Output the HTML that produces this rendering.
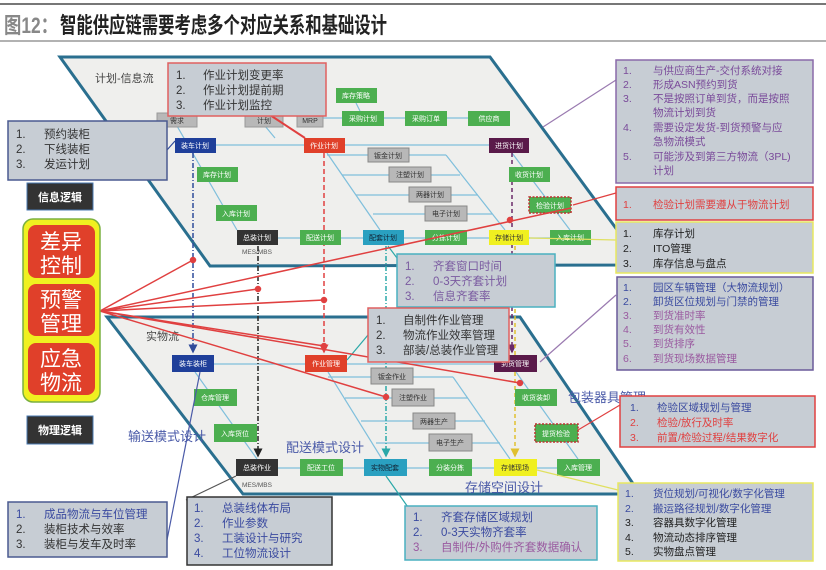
<!DOCTYPE html>
<html><head><meta charset="utf-8"><style>
html,body{margin:0;padding:0;background:#fff;}
svg{display:block;font-family:"Liberation Sans","Noto Sans CJK SC",sans-serif;}
</style></head><body>
<svg width="826" height="570" viewBox="0 0 826 570" xmlns="http://www.w3.org/2000/svg">
<defs>
<marker id="ab" markerWidth="6" markerHeight="6" refX="5" refY="3" orient="auto"><path d="M0,0 L6,3 L0,6z" fill="#2f4b9a"/></marker>
<marker id="ak" markerWidth="6" markerHeight="6" refX="5" refY="3" orient="auto"><path d="M0,0 L6,3 L0,6z" fill="#222"/></marker>
<marker id="ar" markerWidth="6" markerHeight="6" refX="5" refY="3" orient="auto"><path d="M0,0 L6,3 L0,6z" fill="#e04040"/></marker>
<marker id="at" markerWidth="6" markerHeight="6" refX="5" refY="3" orient="auto"><path d="M0,0 L6,3 L0,6z" fill="#2aa8a8"/></marker>
<marker id="ap" markerWidth="6" markerHeight="6" refX="5" refY="3" orient="auto"><path d="M0,0 L6,3 L0,6z" fill="#6a2a6a"/></marker>
<marker id="ay" markerWidth="6" markerHeight="6" refX="5" refY="3" orient="auto"><path d="M0,0 L6,3 L0,6z" fill="#e0c030"/></marker>
</defs>
<!-- title -->
<line x1="0" y1="4" x2="826" y2="4" stroke="#777" stroke-width="2"/>
<text x="4" y="33" font-size="22" font-weight="bold" fill="#888" textLength="54" lengthAdjust="spacingAndGlyphs">图12：</text>
<text x="60" y="33" font-size="22" font-weight="bold" fill="#222" textLength="327" lengthAdjust="spacingAndGlyphs">智能供应链需要考虑多个对应关系和基础设计</text>
<line x1="0" y1="41" x2="826" y2="41" stroke="#999" stroke-width="1.5"/>

<!-- parallelograms -->
<polygon points="60,57 490,57 643,265 210,266" fill="#efefed" stroke="#2a6f8f" stroke-width="3"/>
<polygon points="107,317 520,317 640,494 243,494" fill="#efefed" stroke="#2a6f8f" stroke-width="3"/>

<text x="95" y="82" font-size="11" fill="#444">计划-信息流</text>
<text x="146" y="340" font-size="11" fill="#444">实物流</text>
<text x="128" y="441" font-size="13" fill="#4a5aa8">输送模式设计</text>
<text x="286" y="452" font-size="13" fill="#4a5aa8">配送模式设计</text>
<text x="465" y="492" font-size="13" fill="#4a5aa8">存储空间设计</text>
<text x="568" y="402" font-size="13" fill="#4a5aa8">包装器具管理</text>

<!-- light blue connectors upper -->
<g stroke="#7fbfdc" stroke-width="1.2" fill="none">
<line x1="216" y1="145" x2="304" y2="145"/><line x1="345" y1="145" x2="489" y2="145"/>
<line x1="384" y1="118" x2="405" y2="118"/><line x1="447" y1="118" x2="468" y2="118"/><line x1="323" y1="118" x2="342" y2="118"/>
<line x1="356" y1="103" x2="360" y2="111"/>
<line x1="177" y1="126" x2="237" y2="230"/>
<line x1="265" y1="126" x2="275" y2="138"/>
<line x1="327" y1="153" x2="380" y2="230"/>
<line x1="327" y1="155" x2="368" y2="155"/><line x1="409" y1="155" x2="446" y2="155"/>
<line x1="342" y1="175" x2="389" y2="175"/><line x1="431" y1="175" x2="460" y2="175"/>
<line x1="356" y1="195" x2="409" y2="195"/><line x1="451" y1="195" x2="478" y2="195"/>
<line x1="373" y1="214" x2="425" y2="214"/><line x1="467" y1="214" x2="492" y2="214"/>
<line x1="446" y1="155" x2="505" y2="230"/>
<line x1="512" y1="153" x2="570" y2="230"/>
<line x1="278" y1="238" x2="300" y2="238"/><line x1="341" y1="238" x2="363" y2="238"/><line x1="404" y1="238" x2="425" y2="238"/><line x1="467" y1="238" x2="489" y2="238"/><line x1="529" y1="238" x2="550" y2="238"/>
</g>
<!-- light blue connectors lower -->
<g stroke="#7fbfdc" stroke-width="1.2" fill="none">
<line x1="214" y1="364" x2="305" y2="364"/><line x1="347" y1="364" x2="494" y2="364"/>
<line x1="328" y1="372" x2="382" y2="459"/>
<line x1="328" y1="377" x2="371" y2="377"/><line x1="413" y1="377" x2="453" y2="377"/>
<line x1="345" y1="398" x2="392" y2="398"/><line x1="434" y1="398" x2="468" y2="398"/>
<line x1="361" y1="421" x2="413" y2="421"/><line x1="455" y1="421" x2="485" y2="421"/>
<line x1="376" y1="443" x2="429" y2="443"/><line x1="472" y1="443" x2="500" y2="443"/>
<line x1="453" y1="377" x2="510" y2="459"/>
<line x1="195" y1="372" x2="257" y2="459"/>
<line x1="516" y1="372" x2="578" y2="459"/>
<line x1="278" y1="468" x2="300" y2="468"/><line x1="343" y1="468" x2="364" y2="468"/><line x1="407" y1="468" x2="429" y2="468"/><line x1="472" y1="468" x2="494" y2="468"/><line x1="537" y1="468" x2="557" y2="468"/>
</g>

<!-- vertical dash lines -->
<line x1="193" y1="153" x2="193" y2="352" stroke="#2f4b9a" stroke-width="1.5" stroke-dasharray="5,2,1,2" marker-end="url(#ab)"/>
<line x1="258" y1="246" x2="258" y2="456" stroke="#222" stroke-width="1.5" stroke-dasharray="5,2,1,2" marker-end="url(#ak)"/>
<line x1="324" y1="153" x2="324" y2="352" stroke="#e04040" stroke-width="1.5" stroke-dasharray="5,3" marker-end="url(#ar)"/>
<line x1="386" y1="246" x2="386" y2="456" stroke="#2aa8a8" stroke-width="1.5" stroke-dasharray="5,2,1,2" marker-end="url(#at)"/>
<line x1="512" y1="153" x2="512" y2="352" stroke="#6a2a6a" stroke-width="1.5" stroke-dasharray="4,3" marker-end="url(#ap)"/>
<line x1="515" y1="246" x2="515" y2="456" stroke="#e0c030" stroke-width="1.5" stroke-dasharray="4,3" marker-end="url(#ay)"/>

<!-- upper nodes -->
<g font-size="7" text-anchor="middle" fill="#fff">
<rect x="157" y="113" width="40" height="14" fill="#b8b8b8" stroke="#999"/><text x="177" y="123" fill="#333">需求</text>
<rect x="245" y="113" width="38" height="14" fill="#b8b8b8" stroke="#999"/><text x="264" y="123" fill="#333">计划</text>
<rect x="297" y="113" width="26" height="14" fill="#b8b8b8" stroke="#999"/><text x="310" y="123" fill="#333">MRP</text>
<rect x="336" y="88" width="41" height="15" fill="#4caf50"/><text x="356" y="98">库存策略</text>
<rect x="342" y="111" width="42" height="15" fill="#4caf50"/><text x="363" y="121">采购计划</text>
<rect x="405" y="111" width="42" height="15" fill="#4caf50"/><text x="426" y="121">采购订单</text>
<rect x="468" y="111" width="42" height="15" fill="#4caf50"/><text x="489" y="121">供应商</text>
<rect x="175" y="138" width="41" height="15" fill="#1f3f9a"/><text x="195" y="148">装车计划</text>
<rect x="304" y="138" width="41" height="15" fill="#e0402a"/><text x="324" y="148">作业计划</text>
<rect x="489" y="138" width="40" height="15" fill="#5a1a4a"/><text x="509" y="148">进货计划</text>
<rect x="368" y="148" width="41" height="14" fill="#b8b8b8" stroke="#888"/><text x="388" y="158" fill="#333">钣金计划</text>
<rect x="389" y="167" width="42" height="15" fill="#b8b8b8" stroke="#888"/><text x="410" y="177" fill="#333">注塑计划</text>
<rect x="409" y="187" width="42" height="15" fill="#b8b8b8" stroke="#888"/><text x="430" y="197" fill="#333">两器计划</text>
<rect x="425" y="206" width="42" height="15" fill="#b8b8b8" stroke="#888"/><text x="446" y="216" fill="#333">电子计划</text>
<rect x="509" y="167" width="41" height="15" fill="#4caf50"/><text x="529" y="177">收货计划</text>
<rect x="529" y="197" width="42" height="16" fill="#4caf50" stroke="#c03030" stroke-dasharray="2,1.5" stroke-width="1.5"/><text x="550" y="208">检验计划</text>
<rect x="197" y="167" width="41" height="15" fill="#4caf50"/><text x="217" y="177">库存计划</text>
<rect x="216" y="205" width="41" height="16" fill="#4caf50"/><text x="236" y="216">入库计划</text>
<rect x="237" y="230" width="41" height="15" fill="#333"/><text x="257" y="240">总装计划</text>
<rect x="300" y="230" width="41" height="15" fill="#4caf50"/><text x="320" y="240">配送计划</text>
<rect x="363" y="230" width="41" height="15" fill="#2aa0c0"/><text x="383" y="240" fill="#123">配套计划</text>
<rect x="425" y="230" width="42" height="15" fill="#4caf50"/><text x="446" y="240">分拣计划</text>
<rect x="489" y="230" width="40" height="15" fill="#f0f020"/><text x="509" y="240" fill="#333">存储计划</text>
<rect x="550" y="230" width="41" height="15" fill="#4caf50"/><text x="570" y="240">入库计划</text>
<text x="257" y="254" fill="#555" font-size="6.5">MES/MBS</text>
</g>
<!-- lower nodes -->
<g font-size="7" text-anchor="middle" fill="#fff">
<rect x="172" y="355" width="42" height="17" fill="#1f3f9a"/><text x="193" y="366">装车装柜</text>
<rect x="305" y="355" width="42" height="17" fill="#e0402a"/><text x="326" y="366">作业管理</text>
<rect x="494" y="355" width="43" height="17" fill="#5a1a4a"/><text x="515" y="366">到货管理</text>
<rect x="371" y="368" width="42" height="16" fill="#b8b8b8" stroke="#888"/><text x="392" y="379" fill="#333">钣金作业</text>
<rect x="392" y="389" width="42" height="17" fill="#b8b8b8" stroke="#888"/><text x="413" y="400" fill="#333">注塑作业</text>
<rect x="413" y="413" width="42" height="16" fill="#b8b8b8" stroke="#888"/><text x="434" y="424" fill="#333">两器生产</text>
<rect x="429" y="434" width="43" height="17" fill="#b8b8b8" stroke="#888"/><text x="450" y="445" fill="#333">电子生产</text>
<rect x="515" y="389" width="42" height="17" fill="#4caf50"/><text x="536" y="400">收货装卸</text>
<rect x="535" y="424" width="43" height="18" fill="#4caf50" stroke="#c03030" stroke-dasharray="2,1.5" stroke-width="1.5"/><text x="556" y="436">提货检验</text>
<rect x="194" y="389" width="43" height="17" fill="#4caf50"/><text x="215" y="400">仓库管理</text>
<rect x="214" y="424" width="43" height="18" fill="#4caf50"/><text x="235" y="436">入库货位</text>
<rect x="236" y="459" width="42" height="17" fill="#333"/><text x="257" y="470">总装作业</text>
<rect x="300" y="459" width="43" height="17" fill="#4caf50"/><text x="321" y="470">配送工位</text>
<rect x="364" y="459" width="43" height="17" fill="#2aa0c0"/><text x="385" y="470" fill="#123">实物配套</text>
<rect x="429" y="459" width="43" height="17" fill="#4caf50"/><text x="450" y="470">分装分拣</text>
<rect x="494" y="459" width="43" height="17" fill="#f0f020"/><text x="515" y="470" fill="#333">存储现场</text>
<rect x="557" y="459" width="43" height="17" fill="#4caf50"/><text x="578" y="470">入库管理</text>
<text x="257" y="487" fill="#555" font-size="6.5">MES/MBS</text>
</g>

<!-- pointer lines -->
<g fill="none" stroke-width="1.2">
<line x1="270" y1="115" x2="305" y2="138" stroke="#e04040" stroke-width="2"/>
<line x1="167" y1="150" x2="175" y2="141" stroke="#2f4b9a"/>
<line x1="397" y1="258" x2="388" y2="246" stroke="#2aa8a8"/>
<line x1="368" y1="335" x2="347" y2="360" stroke="#2aa8a8"/>
<line x1="616" y1="80" x2="543" y2="127" stroke="#9a7ab0"/>
<line x1="616" y1="193" x2="573" y2="205" stroke="#e04040"/>
<line x1="616" y1="240" x2="530" y2="238" stroke="#e0e060"/>
<line x1="616" y1="295" x2="540" y2="362" stroke="#9a7ab0"/>
<line x1="620" y1="405" x2="578" y2="430" stroke="#e04040"/>
<line x1="618" y1="490" x2="537" y2="470" stroke="#e0e060"/>
<line x1="167" y1="540" x2="200" y2="372" stroke="#4a5aa8"/>
<line x1="186" y1="500" x2="236" y2="476" stroke="#555"/>
<line x1="410" y1="510" x2="386" y2="476" stroke="#2aa8a8"/>
</g>

<!-- red fan lines -->
<g stroke="#e04040" stroke-width="1.5" fill="#e04040">
<line x1="100" y1="311" x2="193" y2="260"/><circle cx="193" cy="260" r="2.5"/>
<line x1="100" y1="311" x2="258" y2="289"/><circle cx="258" cy="289" r="2.5"/>
<line x1="100" y1="311" x2="324" y2="300"/><circle cx="324" cy="300" r="2.5"/>
<line x1="100" y1="311" x2="571" y2="208"/><circle cx="510" cy="220" r="2.5"/>
<line x1="100" y1="311" x2="324" y2="346"/><circle cx="324" cy="346" r="2.5"/>
<line x1="100" y1="311" x2="386" y2="397"/><circle cx="386" cy="397" r="2.5"/>
<line x1="100" y1="311" x2="520" y2="383"/><circle cx="520" cy="383" r="2.5"/>
</g>

<!-- left side -->
<rect x="23" y="219" width="77" height="183" rx="10" fill="#f0f020" stroke="#7ab040" stroke-width="1.5"/>
<g fill="#e0402a">
<rect x="28" y="225" width="67" height="53" rx="8"/>
<rect x="28" y="284" width="67" height="52" rx="8"/>
<rect x="28" y="343" width="67" height="52" rx="8"/>
</g>
<g font-size="21" fill="#fff" text-anchor="middle">
<text x="61" y="249">差异</text><text x="61" y="273">控制</text>
<text x="61" y="307">预警</text><text x="61" y="331">管理</text>
<text x="61" y="366">应急</text><text x="61" y="390">物流</text>
</g>
<rect x="27" y="183" width="66" height="27" fill="#333" stroke="#4a7ab0"/>
<text x="60" y="201" font-size="11" font-weight="bold" fill="#fff" text-anchor="middle">信息逻辑</text>
<rect x="27" y="416" width="66" height="28" fill="#333" stroke="#4a7ab0"/>
<text x="60" y="434" font-size="11" font-weight="bold" fill="#fff" text-anchor="middle">物理逻辑</text>

<!-- callouts -->
<g font-size="11.5">
<rect x="168" y="63" width="158" height="53" fill="#c7cdd4" stroke="#e06060" stroke-width="1.5"/>
<text x="176" y="79" fill="#333">1.<tspan x="203">作业计划变更率</tspan></text>
<text x="176" y="94" fill="#333">2.<tspan x="203">作业计划提前期</tspan></text>
<text x="176" y="109" fill="#333">3.<tspan x="203">作业计划监控</tspan></text>

<rect x="8" y="121" width="159" height="59" fill="#c7cdd4" stroke="#4a5a90" stroke-width="1.5"/>
<text x="16" y="138" fill="#333">1.<tspan x="44">预约装柜</tspan></text>
<text x="16" y="153" fill="#333">2.<tspan x="44">下线装柜</tspan></text>
<text x="16" y="168" fill="#333">3.<tspan x="44">发运计划</tspan></text>

<rect x="397" y="254" width="158" height="53" fill="#c7cdd4" stroke="#4ab0c0" stroke-width="1.5"/>
<text x="405" y="270" fill="#7a5aa0">1.<tspan x="433">齐套窗口时间</tspan></text>
<text x="405" y="285" fill="#7a5aa0">2.<tspan x="433">0-3天齐套计划</tspan></text>
<text x="405" y="300" fill="#7a5aa0">3.<tspan x="433">信息齐套率</tspan></text>

<rect x="368" y="308" width="141" height="54" fill="#c7cdd4" stroke="#e06060" stroke-width="1.5"/>
<text x="376" y="324" fill="#333">1.<tspan x="403">自制件作业管理</tspan></text>
<text x="376" y="339" fill="#333">2.<tspan x="403">物流作业效率管理</tspan></text>
<text x="376" y="354" fill="#333">3.<tspan x="403">部装/总装作业管理</tspan></text>

<rect x="8" y="502" width="159" height="55" fill="#c7cdd4" stroke="#4a5a90" stroke-width="1.5"/>
<text x="16" y="518" fill="#3a4aa0">1.<tspan x="44">成品物流与车位管理</tspan></text>
<text x="16" y="533" fill="#333">2.<tspan x="44">装柜技术与效率</tspan></text>
<text x="16" y="548" fill="#333">3.<tspan x="44">装柜与发车及时率</tspan></text>

<rect x="187" y="497" width="145" height="68" fill="#c7cdd4" stroke="#333" stroke-width="1.5"/>
<text x="194" y="512" fill="#3a4aa0">1.<tspan x="222">总装线体布局</tspan></text>
<text x="194" y="527" fill="#3a4aa0">2.<tspan x="222">作业参数</tspan></text>
<text x="194" y="542" fill="#3a4aa0">3.<tspan x="222">工装设计与研究</tspan></text>
<text x="194" y="557" fill="#3a4aa0">4.<tspan x="222">工位物流设计</tspan></text>

<rect x="405" y="506" width="192" height="54" fill="#c7cdd4" stroke="#4ab0c0" stroke-width="1.5"/>
<text x="413" y="521" fill="#3a4aa0">1.<tspan x="441">齐套存储区域规划</tspan></text>
<text x="413" y="536" fill="#3a4aa0">2.<tspan x="441">0-3天实物齐套率</tspan></text>
<text x="413" y="551" fill="#9a5aa0">3.<tspan x="441">自制件/外购件齐套数据确认</tspan></text>
</g>

<!-- right callouts -->
<g font-size="10.5">
<rect x="616" y="60" width="197" height="123" fill="#c7cdd4" stroke="#8a6aaa" stroke-width="1.5"/>
<g fill="#7a4a9a">
<text x="623" y="74">1.<tspan x="653">与供应商生产-交付系统对接</tspan></text>
<text x="623" y="88">2.<tspan x="653">形成ASN预约到货</tspan></text>
<text x="623" y="102">3.<tspan x="653">不是按照订单到货，而是按照</tspan></text>
<text x="653" y="116">物流计划到货</text>
<text x="623" y="131">4.<tspan x="653">需要设定发货-到货预警与应</tspan></text>
<text x="653" y="145">急物流模式</text>
<text x="623" y="160">5.<tspan x="653">可能涉及到第三方物流（3PL)</tspan></text>
<text x="653" y="174">计划</text>
</g>
<rect x="616" y="187" width="197" height="33" fill="#c7cdd4" stroke="#e04040" stroke-width="1.5"/>
<text x="623" y="208" fill="#e04040">1.<tspan x="653">检验计划需要遵从于物流计划</tspan></text>

<rect x="616" y="222" width="197" height="51" fill="#c7cdd4" stroke="#e8e860" stroke-width="1.5"/>
<text x="623" y="237" fill="#222">1.<tspan x="653">库存计划</tspan></text>
<text x="623" y="252" fill="#222">2.<tspan x="653">ITO管理</tspan></text>
<text x="623" y="267" fill="#222">3.<tspan x="653">库存信息与盘点</tspan></text>

<rect x="617" y="277" width="196" height="93" fill="#c7cdd4" stroke="#6a5a9a" stroke-width="1.5"/>
<text x="623" y="291" fill="#3a4aa0">1.<tspan x="653">园区车辆管理（大物流规划）</tspan></text>
<text x="623" y="305" fill="#3a4aa0">2.<tspan x="653">卸货区位规划与门禁的管理</tspan></text>
<text x="623" y="319" fill="#9a5aa0">3.<tspan x="653">到货准时率</tspan></text>
<text x="623" y="333" fill="#9a5aa0">4.<tspan x="653">到货有效性</tspan></text>
<text x="623" y="347" fill="#9a5aa0">5.<tspan x="653">到货排序</tspan></text>
<text x="623" y="362" fill="#9a5aa0">6.<tspan x="653">到货现场数据管理</tspan></text>

<rect x="620" y="396" width="195" height="51" fill="#c7cdd4" stroke="#e04040" stroke-width="1.5"/>
<text x="630" y="411" fill="#3a4aa0">1.<tspan x="657">检验区域规划与管理</tspan></text>
<text x="630" y="426" fill="#e04040">2.<tspan x="657">检验/放行及时率</tspan></text>
<text x="630" y="441" fill="#e04040">3.<tspan x="657">前置/检验过程/结果数字化</tspan></text>

<rect x="618" y="483" width="195" height="78" fill="#c7cdd4" stroke="#e8e860" stroke-width="1.5"/>
<text x="625" y="497" fill="#3a4aa0">1.<tspan x="653">货位规划/可视化/数字化管理</tspan></text>
<text x="625" y="512" fill="#3a4aa0">2.<tspan x="653">搬运路径规划/数字化管理</tspan></text>
<text x="625" y="526" fill="#222">3.<tspan x="653">容器具数字化管理</tspan></text>
<text x="625" y="541" fill="#222">4.<tspan x="653">物流动态排序管理</tspan></text>
<text x="625" y="555" fill="#222">5.<tspan x="653">实物盘点管理</tspan></text>
</g>
</svg>
</body></html>
